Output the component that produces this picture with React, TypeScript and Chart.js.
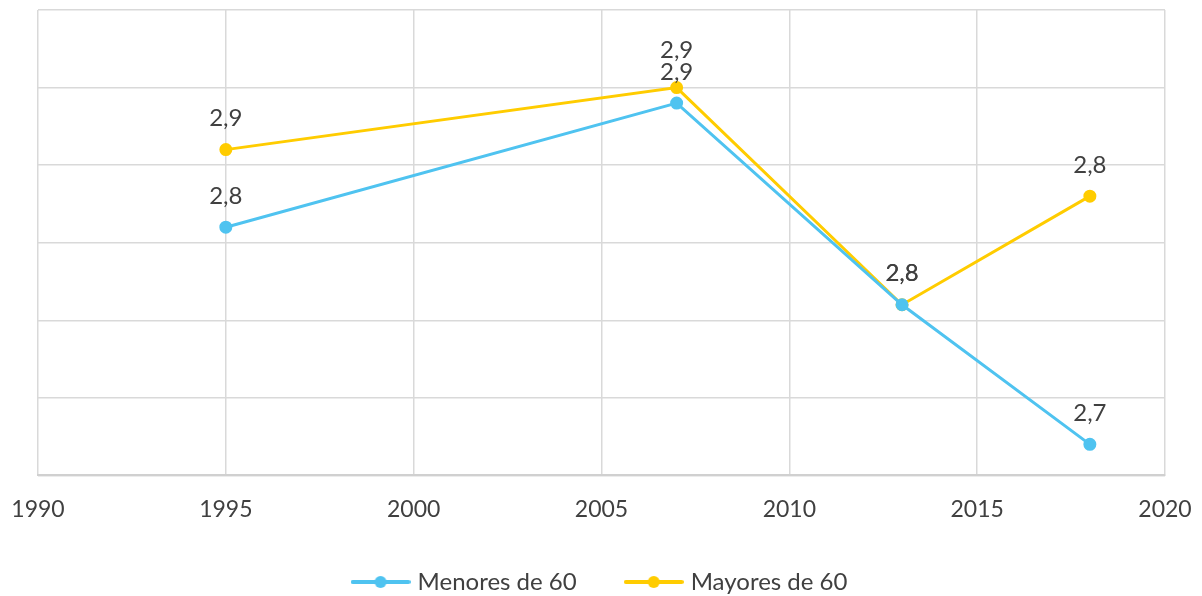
import React, { useEffect, useRef } from "react";
import { Chart, registerables } from "chart.js";

Chart.register(...registerables);

const years = [1995, 2007, 2013, 2018];
const menores = [2.81, 2.89, 2.76, 2.67];
const mayores = [2.86, 2.9, 2.76, 2.83];
const seriesNames = ["Menores de 60", "Mayores de 60"];
const seriesColors = ["#4FC3F0", "#FFCC00"];
const xTicks = [1990, 1995, 2000, 2005, 2010, 2015, 2020];

const FONT = "Lato, 'Noto Sans', sans-serif";

function legendIcon(color: string) {
  const c = document.createElement("canvas");
  c.width = 60;
  c.height = 14;
  const ctx = c.getContext("2d")!;
  ctx.strokeStyle = color;
  ctx.lineWidth = 4;
  ctx.lineCap = "round";
  ctx.beginPath();
  ctx.moveTo(2, 7);
  ctx.lineTo(58, 7);
  ctx.stroke();
  ctx.fillStyle = color;
  ctx.beginPath();
  ctx.arc(30, 7, 6, 0, Math.PI * 2);
  ctx.fill();
  return c;
}

const LEGEND_SHRINK = 33;
const LEGEND_SHIFT = 25;

const legendPatch = {
  id: "legendPatch",
  afterInit(chart: any) {
    const lg = chart.legend;
    if (!lg || lg.__patched) return;
    lg.__patched = true;
    const origFit = lg.fit;
    const origDraw = lg._draw;
    lg.fit = function (this: any) {
      origFit.call(this);
      this.height -= LEGEND_SHRINK;
    };
    lg._draw = function (this: any) {
      const c = this.ctx;
      c.save();
      c.translate(0, -LEGEND_SHIFT);
      origDraw.call(this);
      c.restore();
    };
  },
};

const labelPlugin = {
  id: "valueLabels",
  afterDatasetsDraw(chart: any) {
    const ctx = chart.ctx;
    ctx.save();
    ctx.font = `24px ${FONT}`;
    ctx.fillStyle = "#404040";
    ctx.textAlign = "center";
    ctx.textBaseline = "middle";
    const placed: { x: number; y: number }[] = [];
    chart.data.datasets.forEach((ds: any, i: number) => {
      const meta = chart.getDatasetMeta(i);
      meta.data.forEach((pt: any, j: number) => {
        const v = ds.data[j].y as number;
        const txt = v.toFixed(1).replace(".", ",");
        let y = pt.y - 31;
        for (const p of placed) {
          const dy = Math.abs(p.y - y);
          if (Math.abs(p.x - pt.x) < 40 && dy > 2 && dy < 22) {
            y = p.y - 22;
          }
        }
        placed.push({ x: pt.x, y });
        ctx.fillText(txt, pt.x, y);
      });
    });
    ctx.restore();
  },
};

export default function App() {
  const ref = useRef<HTMLCanvasElement>(null);
  useEffect(() => {
    const icons = seriesColors.map(legendIcon);
    const chart = new Chart(ref.current!, {
      type: "line",
      data: {
        datasets: [menores, mayores].map((vals, i) => ({
          label: seriesNames[i],
          data: years.map((y, j) => ({ x: y, y: vals[j] })),
          borderColor: seriesColors[i],
          backgroundColor: seriesColors[i],
          borderWidth: 3,
          pointRadius: 5,
          pointHoverRadius: 5,
          pointStyle: "circle" as any,
          fill: false,
          tension: 0,
        })),
      },
      options: {
        animation: false,
        responsive: false,
        layout: { padding: { top: 10, right: 37, left: 38, bottom: 0 } },
        plugins: {
          tooltip: { enabled: false },
          legend: {
            position: "bottom",
            labels: {
              font: { family: FONT, size: 24 },
              color: "#404040",
              padding: 52,
              boxWidth: 50,
              pointStyleWidth: 50,
              generateLabels: () =>
                seriesNames.map((n, i) => ({
                  text: n,
                  pointStyle: icons[i] as any,
                  fillStyle: seriesColors[i],
                  strokeStyle: seriesColors[i],
                  lineWidth: 0,
                  hidden: false,
                  datasetIndex: i,
                  fontColor: "#404040",
                })),
              usePointStyle: true,
            },
          },
        },
        scales: {
          x: {
            type: "linear",
            min: 1990,
            max: 2020,
            afterBuildTicks: (axis: any) => {
              axis.ticks = xTicks.map((v) => ({ value: v }));
            },
            ticks: {
              font: { family: FONT, size: 23, lineHeight: 67.6 / 23 },
              color: "#404040",
              padding: 0,
              maxRotation: 0,
              callback: (v: any) => String(v),
            },
            grid: { color: "#d9d9d9", lineWidth: 1.5, drawTicks: false },
            border: { color: "#d0d0d0", width: 2 },
          },
          y: {
            min: 2.65,
            max: 2.95,
            ticks: { display: false, stepSize: 0.05, padding: 0 },
            grid: { color: "#d9d9d9", lineWidth: 1.5, drawTicks: false },
            border: { display: false },
          },
        },
      },
      plugins: [legendPatch, labelPlugin],
    });
    return () => chart.destroy();
  }, []);
  return (
    <div style={{ position: "absolute", left: 0, top: 0, width: 1202, height: 596 }}>
      <canvas ref={ref} width={1202} height={596} />
    </div>
  );
}
